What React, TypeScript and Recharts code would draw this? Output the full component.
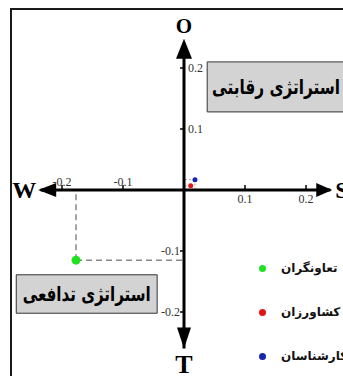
import React from "react";
import {
  ScatterChart,
  Scatter,
  XAxis,
  YAxis,
  ReferenceLine,
  ReferenceDot,
  ReferenceArea,
  Legend,
} from "recharts";

// groups and their position on the strategy map
const groups = ["تعاونگران", "کشاورزان", "کارشناسان"];
const xValues = [-0.177, 0.011, 0.018];
const yValues = [-0.115, 0.007, 0.017];

const xTicks = [-0.2, -0.1, 0.1, 0.2];
const yTicks = [0.2, 0.1, -0.1, -0.2];

const strategies = ["استراتژی رقابتی", "استراتژی تدافعی"];
const axisLetters = ["O", "W", "S", "T"];

const colors = ["#22e022", "#e01515", "#1525b0"];
const radii = [4.5, 2.5, 2.5];
const serif = "'Liberation Serif', 'Times New Roman', serif";
const persian = "'DejaVu Sans', sans-serif";

type DotProps = { cx?: number; cy?: number };

function arrowShape(dir: string, letter: string) {
  return ({ cx = 0, cy = 0 }: DotProps) => {
    let pts = "";
    let label = null;
    if (dir === "left") {
      pts = `${cx},${cy} ${cx + 18},${cy - 7} ${cx + 18},${cy + 7}`;
      label = (
        <text x={cx - 14} y={cy + 8} textAnchor="middle" fontSize={24} fontWeight="bold" fontFamily={serif}>
          {letter}
        </text>
      );
    } else if (dir === "right") {
      pts = `${cx},${cy} ${cx - 16},${cy - 7} ${cx - 16},${cy + 7}`;
      label = (
        <text x={cx + 3} y={cy + 8} textAnchor="start" fontSize={24} fontWeight="bold" fontFamily={serif}>
          {letter}
        </text>
      );
    } else if (dir === "up") {
      pts = `${cx},${cy} ${cx - 8},${cy + 20} ${cx + 8},${cy + 20}`;
      label = (
        <text x={cx} y={cy - 6} textAnchor="middle" fontSize={21} fontWeight="bold" fontFamily={serif}>
          {letter}
        </text>
      );
    } else {
      pts = `${cx},${cy} ${cx - 7},${cy - 21} ${cx + 7},${cy - 21}`;
      label = (
        <text x={cx} y={cy + 24} textAnchor="middle" fontSize={26} fontWeight="bold" fontFamily={serif}>
          {letter}
        </text>
      );
    }
    return (
      <g>
        <polygon points={pts} fill="#000" />
        {label}
      </g>
    );
  };
}

function xTickShape(value: number) {
  return ({ cx = 0, cy = 0 }: DotProps) => (
    <g>
      <line x1={cx} y1={cy} x2={cx} y2={cy - 5} stroke="#000" strokeWidth={1.5} />
      <text
        x={cx}
        y={value < 0 ? cy - 4 : cy + 13}
        textAnchor="middle"
        fontSize={12}
        fontFamily={serif}
        fill="#333"
      >
        {value}
      </text>
    </g>
  );
}

function yTickShape(value: number) {
  return ({ cx = 0, cy = 0 }: DotProps) => (
    <g>
      <line x1={cx - 4} y1={cy} x2={cx} y2={cy} stroke="#000" strokeWidth={1.5} />
      <text
        x={value < 0 ? cx - 4 : cx + 4}
        y={cy + 4}
        textAnchor={value < 0 ? "end" : "start"}
        fontSize={12}
        fontFamily={serif}
        fill="#333"
      >
        {value}
      </text>
    </g>
  );
}

// box caption squeezed to the width seen in the picture
function boxLabel(text: string) {
  return (props: any) => {
    const { x = 0, y = 0, width = 0, height = 0 } = props.viewBox || {};
    return (
      <text
        x={x + width / 2}
        y={y + height / 2 + 7}
        textAnchor="middle"
        fontSize={20}
        fontWeight="bold"
        fontFamily={persian}
        fill="#000"
        textLength={128}
        lengthAdjust="spacingAndGlyphs"
      >
        {text}
      </text>
    );
  };
}

const renderLegend = (props: any) => {
  const payload = [...(props.payload || [])].sort(
    (a: any, b: any) => groups.indexOf(a.value) - groups.indexOf(b.value)
  );
  return (
    <div style={{ fontFamily: persian, fontSize: 12, fontWeight: "bold", color: "#111" }}>
      {payload.map((entry: any, i: number) => (
        <div key={i} style={{ display: "flex", alignItems: "center", height: 44 }}>
          <span
            style={{
              display: "inline-block",
              width: 7,
              height: 7,
              borderRadius: "50%",
              background: entry.color,
              marginRight: 15,
            }}
          />
          <span style={{ whiteSpace: "nowrap" }}>{entry.value}</span>
        </div>
      ))}
    </div>
  );
};

export default function App() {
  return (
    <div
      style={{
        position: "fixed",
        left: 0,
        top: 0,
        width: 343,
        height: 376,
        overflow: "hidden",
        background: "#fff",
      }}
    >
      <div
        style={{
          position: "absolute",
          left: 10,
          top: 8,
          width: 420,
          height: 420,
          border: "2px solid #1a1a1a",
          boxSizing: "border-box",
        }}
      />
      <ScatterChart width={370} height={376} margin={{ top: 7, right: 3, bottom: 3, left: 1 }}>
        <XAxis type="number" dataKey="x" domain={[-0.3, 0.3]} hide />
        <YAxis type="number" dataKey="y" domain={[-0.3, 0.3]} hide />

        <ReferenceArea
          x1={0.038}
          x2={0.264}
          y1={0.128}
          y2={0.21}
          fill="#d3d3d3"
          fillOpacity={1}
          stroke="#333"
          strokeWidth={1}
          ifOverflow="visible"
          label={boxLabel(strategies[0])}
        />
        <ReferenceArea
          x1={-0.275}
          x2={-0.044}
          y1={-0.139}
          y2={-0.202}
          fill="#d3d3d3"
          fillOpacity={1}
          stroke="#333"
          strokeWidth={1}
          label={boxLabel(strategies[1])}
        />

        {groups.map((g, i) => (
          <ReferenceLine
            key={"v" + g}
            segment={[
              { x: xValues[i], y: yValues[i] },
              { x: xValues[i], y: 0 },
            ]}
            stroke={i === 0 ? "#888" : "#aaa"}
            strokeWidth={i === 0 ? 1.5 : 1}
            strokeDasharray={i === 0 ? "6 4" : "2 2"}
          />
        ))}
        {groups.map((g, i) => (
          <ReferenceLine
            key={"h" + g}
            segment={[
              { x: xValues[i], y: yValues[i] },
              { x: 0, y: yValues[i] },
            ]}
            stroke={i === 0 ? "#888" : "#aaa"}
            strokeWidth={i === 0 ? 1.5 : 1}
            strokeDasharray={i === 0 ? "6 4" : "2 2"}
          />
        ))}

        <ReferenceLine
          segment={[
            { x: -0.235, y: 0 },
            { x: 0.24, y: 0 },
          ]}
          stroke="#000"
          strokeWidth={3}
        />
        <ReferenceLine
          segment={[
            { x: 0, y: 0.24 },
            { x: 0, y: -0.26 },
          ]}
          stroke="#000"
          strokeWidth={3}
        />

        {xTicks.map((t) => (
          <ReferenceDot key={"xt" + t} x={t} y={0} r={0} shape={xTickShape(t)} />
        ))}
        {yTicks.map((t) => (
          <ReferenceDot key={"yt" + t} x={0} y={t} r={0} shape={yTickShape(t)} />
        ))}

        <ReferenceDot x={0} y={0.248} r={0} ifOverflow="visible" shape={arrowShape("up", axisLetters[0])} />
        <ReferenceDot x={-0.239} y={0} r={0} ifOverflow="visible" shape={arrowShape("left", axisLetters[1])} />
        <ReferenceDot x={0.243} y={0} r={0} ifOverflow="visible" shape={arrowShape("right", axisLetters[2])} />
        <ReferenceDot x={0} y={-0.26} r={0} ifOverflow="visible" shape={arrowShape("down", axisLetters[3])} />

        {groups.map((g, i) => (
          <Scatter
            key={g}
            name={g}
            data={[{ x: xValues[i], y: yValues[i] }]}
            fill={colors[i]}
            isAnimationActive={false}
            shape={(p: any) => <circle cx={p.cx} cy={p.cy} r={radii[i]} fill={colors[i]} />}
          />
        ))}

        <Legend
          layout="vertical"
          align="center"
          verticalAlign="middle"
          content={renderLegend}
          wrapperStyle={{ position: "absolute", left: 259, top: 246, width: 120 }}
        />
      </ScatterChart>
    </div>
  );
}
